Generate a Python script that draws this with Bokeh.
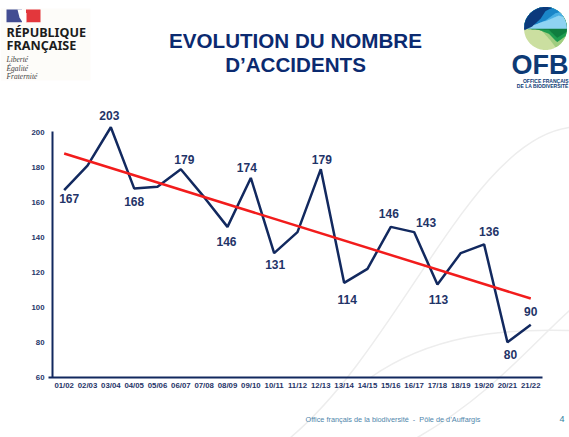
import numpy as np
from bokeh.core.properties import value
from bokeh.embed import file_html
from bokeh.models import FixedTicker, Range1d
from bokeh.plotting import figure
from bokeh.resources import INLINE

seasons = ["01/02", "02/03", "03/04", "04/05", "05/06", "06/07", "07/08", "08/09", "09/10", "10/11", "11/12",
           "12/13", "13/14", "14/15", "15/16", "16/17", "17/18", "18/19", "19/20", "20/21", "21/22"]
accidents = [167, 181, 203, 168, 169, 179, 163, 146, 174, 131, 143, 179, 114, 122, 146, 143, 113, 131, 136, 80, 90]
trend_ends = [188, 105]
y_ticks = [60, 80, 100, 120, 140, 160, 180, 200]
labelled = [0, 2, 3, 5, 7, 8, 9, 11, 12, 14, 15, 16, 18, 19, 20]
title_lines = ["EVOLUTION DU NOMBRE", "D\u2019ACCIDENTS"]
footer = "Office fran\u00e7ais de la biodiversit\u00e9 \u00a0-\u00a0 P\u00f4le de d\u2019Auffargis"

NAVY = "#12295f"
TEXT = "#1f3468"
FONT = value("Liberation Sans")

# Page geometry: reference pixels <-> data
W, H = 569, 437
x0, dx = 63.67, 23.33
y60, dy = 376.7, 1.748
xr = Range1d((0 - x0) / dx, (W - x0) / dx)
yr = Range1d(60 + (y60 - H) / dy, 60 + y60 / dy)

p = figure(width=W, height=H, x_range=xr, y_range=yr, output_backend="svg", toolbar_location=None,
           min_border=0, outline_line_color=None, background_fill_color="white", border_fill_color="white")
p.extra_x_ranges["px"] = Range1d(0, W)
p.extra_y_ranges["px"] = Range1d(H, 0)
p.grid.visible = False
PX = dict(x_range_name="px", y_range_name="px")

# faint background curves
for c in [(290, 437, 400, 345, 470, 140, 569, 127), (370, 377, 430, 335, 500, 328, 569, 330),
          (417, 437, 490, 395, 530, 345, 569, 310)]:
    p.bezier(x0=[c[0]], y0=[c[1]], cx0=[c[2]], cy0=[c[3]], cx1=[c[4]], cy1=[c[5]], x1=[c[6]], y1=[c[7]],
             line_color="#ededed", line_width=1.5, **PX)

# left logo
p.quad(left=[0], right=[90], top=[8], bottom=[80], fill_color="#fdfcf9", line_color=None, **PX)
p.quad(left=[6], right=[21.5], top=[9], bottom=[21.7], fill_color="#434d92", line_color=None, **PX)
p.quad(left=[25.5], right=[40], top=[9], bottom=[21.7], fill_color="#e3373c", line_color=None, **PX)
p.patch(x=[17, 20, 22, 26, 26, 22, 19], y=[9, 9, 9, 13, 21.7, 21.7, 17], fill_color="white", line_color=None, **PX)
p.text(x=[6], y=[32], text=["R\u00c9PUBLIQUE"], text_font=value("Noto Sans"), text_font_style="bold",
       text_font_size="12.6px", text_color="#1c1c1c", text_baseline="middle", **PX)
p.text(x=[6], y=[45], text=["FRAN\u00c7AISE"], text_font=value("Noto Sans"), text_font_style="bold",
       text_font_size="12.6px", text_color="#1c1c1c", text_baseline="middle", **PX)
p.text(x=[6, 6, 6], y=[59, 67.5, 76], text=["Libert\u00e9", "\u00c9galit\u00e9", "Fraternit\u00e9"],
       text_font=value("Liberation Serif"), text_font_style="italic", text_font_size="7.5px",
       text_color="#444444", text_baseline="middle", **PX)

# right logo: circle with layered bands
cx, cy, r = 545.0, 28.0, 21.5
xs = np.linspace(cx - r, cx + r, 90)
top = cy - np.sqrt(np.maximum(r**2 - (xs - cx)**2, 0))
bot = cy + np.sqrt(np.maximum(r**2 - (xs - cx)**2, 0))
def zx(v): return 515 + np.array(v) / 3
def zy(v): return np.array(v) / 3
bands = [
    ("#cbdfa0", [25, 160], [160, 160]),
    ("#a0cd80", [25, 60, 80, 105, 120, 160], [85, 85, 92, 120, 140, 140]),
    ("#1f9d50", [25, 70, 100, 125, 160], [85, 88, 100, 125, 100]),
    ("#0f7d3f", [25, 100, 125, 160], [85, 88, 112, 90]),
    ("#8fd3f2", [25, 160], [85, 85]),
    ("#4ab0e4", [25, 90, 130, 160], [62, 62, 45, 55]),
    ("#1a86c8", [25, 60, 90, 120, 160], [75, 72, 60, 38, 30]),
    ("#0b3a7c", [25, 50, 75, 90, 110, 160], [90, 78, 55, 32, 22, 15]),
]
for color, bx, by in bands:
    f = np.clip(np.interp(xs, zx(bx), zy(by)), top, bot)
    p.patch(x=np.r_[xs, xs[::-1]], y=np.r_[top, f[::-1]], fill_color=color, line_color=None, **PX)
p.text(x=[568], y=[64.5], text=["OFB"], text_font=FONT, text_font_style="bold", text_font_size="27px",
       text_color="#0d3a75", text_align="right", text_baseline="middle", **PX)
p.text(x=[568, 568], y=[80, 85.5], text=["OFFICE FRAN\u00c7AIS", "DE LA BIODIVERSIT\u00c9"], text_font=FONT,
       text_font_style="bold", text_font_size="5px", text_color="#0d3a75", text_align="right",
       text_baseline="middle", **PX)

# title
p.text(x=[295, 295], y=[40, 64], text=title_lines, text_font=FONT, text_font_style="bold", text_font_size="20.6px",
       text_color="#0b2a70", text_align="center", text_baseline="middle", **PX)

# footer
p.text(x=[305], y=[419], text=[footer], text_font=FONT, text_font_size="7.3px", text_color="#4f86ab",
       text_baseline="middle", **PX)
p.text(x=[559], y=[418], text=["4"], text_font=FONT, text_font_size="9px", text_color="#2f7f9f",
       text_baseline="middle", **PX)

# data
idx = list(range(len(seasons)))
p.line(idx, accidents, line_color=NAVY, line_width=2.5)
p.line([idx[0], idx[-1]], trend_ends, line_color="#f21c1c", line_width=2.5)

label_dx = [5, -1.5, 0, 3.5, -1, -4, 1, 1, 3, -2, 12, 1, 5, 3, 0]
label_dy = [8, -12, 13.5, -10, 15, -10, 11, -10, 17, -13, -10, 15, -13, 12, -13]
p.text(x=labelled, y=[accidents[i] for i in labelled], text=[str(accidents[i]) for i in labelled],
       x_offset=label_dx, y_offset=label_dy, text_font=FONT, text_font_style="bold", text_font_size="12px",
       text_color=TEXT, text_align="center", text_baseline="middle")

# axes
for ax in (p.xaxis[0], p.yaxis[0]):
    ax.major_tick_line_color = None
    ax.minor_tick_line_color = None
    ax.axis_line_color = NAVY
    ax.axis_line_width = 2
    ax.major_label_text_font = "Liberation Sans"
    ax.major_label_text_font_style = "bold"
    ax.major_label_text_font_size = "7.8px"
    ax.major_label_text_color = TEXT
p.xaxis[0].fixed_location = 60
p.xaxis[0].bounds = (-0.67, 20.5)
p.xaxis[0].ticker = FixedTicker(ticks=idx)
p.xaxis[0].major_label_overrides = dict(zip(idx, seasons))
p.xaxis[0].major_label_standoff = -2
p.yaxis[0].fixed_location = -0.5
p.yaxis[0].bounds = (60, 200.5)
p.yaxis[0].ticker = FixedTicker(ticks=y_ticks)
p.yaxis[0].major_label_standoff = 2

open("out.html", "w").write(file_html(p, INLINE))
